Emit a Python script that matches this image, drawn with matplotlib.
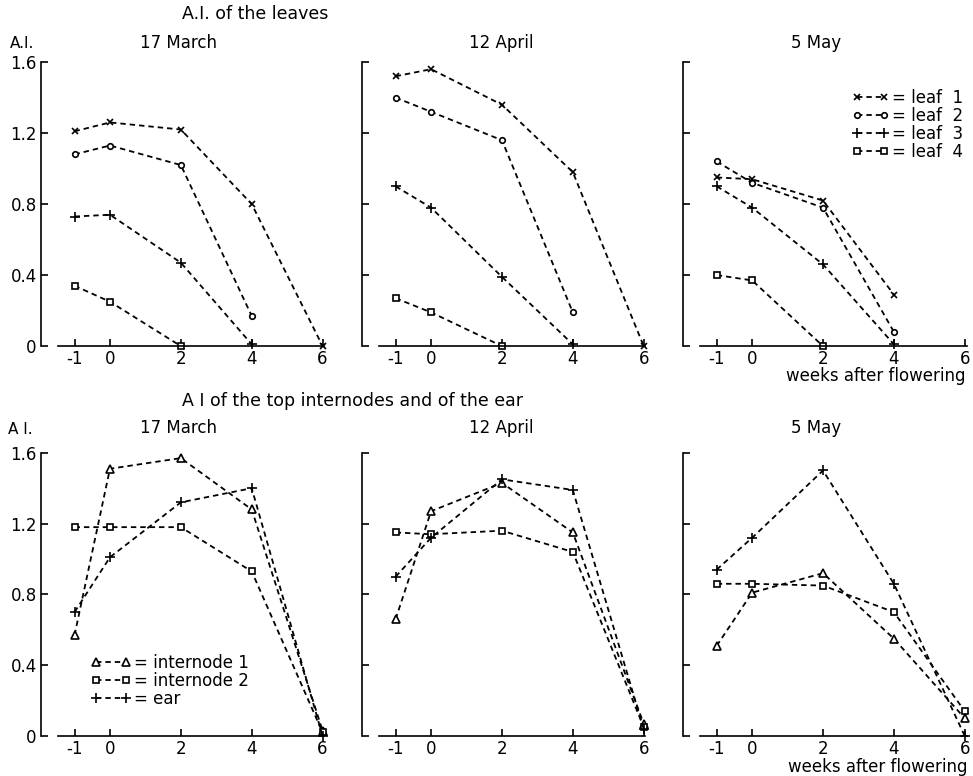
from matplotlib import pyplot as plt

weeks = [-1, 0, 2, 4, 6]
dates = ["17 March", "12 April", "5 May"]

# A.I. of the leaves
leaf1 = [[1.21, 1.26, 1.22, 0.80, 0.0], [1.52, 1.56, 1.36, 0.98, 0.0], [0.95, 0.94, 0.82, 0.29]]
leaf2 = [[1.08, 1.13, 1.02, 0.17], [1.40, 1.32, 1.16, 0.19], [1.04, 0.92, 0.78, 0.08]]
leaf3 = [[0.73, 0.74, 0.47, 0.01], [0.90, 0.78, 0.39, 0.01], [0.90, 0.78, 0.46, 0.01]]
leaf4 = [[0.34, 0.25, 0.0], [0.27, 0.19, 0.0], [0.40, 0.37, 0.0]]

# A.I. of the top internodes and of the ear
internode1 = [[0.57, 1.51, 1.57, 1.28, 0.03], [0.66, 1.27, 1.43, 1.15, 0.07], [0.51, 0.81, 0.92, 0.55, 0.10]]
internode2 = [[1.18, 1.18, 1.18, 0.93, 0.02], [1.15, 1.14, 1.16, 1.04, 0.05], [0.86, 0.86, 0.85, 0.70, 0.14]]
ear = [[0.70, 1.01, 1.32, 1.40, 0.0], [0.90, 1.12, 1.45, 1.39, 0.04], [0.94, 1.12, 1.50, 0.86, 0.0]]

yticks = [0, 0.4, 0.8, 1.2, 1.6]
ytick_labels = ["0", "0.4", "0.8", "1.2", "1.6"]

FS = 12
DASH = (3, 2.2)
W, H = 973, 776


def style_axes(ax):
    ax.set_xlim(-1.95, 6.15)
    ax.set_ylim(0, 1.6)
    for s in ["top", "right"]:
        ax.spines[s].set_visible(False)
    ax.spines["bottom"].set_bounds(-1.47, 6.05)
    ax.spines["left"].set_linewidth(1.2)
    ax.spines["bottom"].set_linewidth(1.2)
    ax.set_xticks(weeks)
    ax.set_xticklabels([str(w) for w in weeks], fontsize=FS)
    ax.set_yticks(yticks)
    ax.tick_params(direction="in", length=5, width=1.2, pad=3)


def curve(ax, y, marker, ms, label=None):
    ax.plot(weeks[:len(y)], y, color="black", lw=1.3, dashes=DASH, marker=marker,
            ms=ms, mfc="white", mec="black", mew=1.2, clip_on=False, label=label)


fig = plt.figure(figsize=(W / 100, H / 100), dpi=100)
lefts = [0.042, 0.372, 0.702]
title_x = [1.94, 1.97, 1.8]
top_axes = [fig.add_axes([l, 0.554, 0.295, 0.366]) for l in lefts]
bot_axes = [fig.add_axes([l, 0.0515, 0.295, 0.365]) for l in lefts]

for i, ax in enumerate(top_axes):
    style_axes(ax)
    curve(ax, leaf1[i], "x", 5, "= leaf  1")
    curve(ax, leaf2[i], "o", 4, "= leaf  2")
    curve(ax, leaf3[i], "+", 7, "= leaf  3")
    curve(ax, leaf4[i], "s", 4, "= leaf  4")
    ax.text(title_x[i], 1.0 + 19 / 284, dates[i], transform=ax.get_xaxis_transform(),
            ha="center", va="center", fontsize=FS)

for i, ax in enumerate(bot_axes):
    style_axes(ax)
    curve(ax, internode1[i], "^", 6, "= internode 1")
    curve(ax, internode2[i], "s", 4, "= internode 2")
    curve(ax, ear[i], "+", 7, "= ear")
    ax.text(title_x[i], 1.0 + 25 / 283, dates[i], transform=ax.get_xaxis_transform(),
            ha="center", va="center", fontsize=FS)

for ax in [top_axes[0], bot_axes[0]]:
    ax.set_yticklabels(ytick_labels, fontsize=FS)
for ax in top_axes[1:] + bot_axes[1:]:
    ax.set_yticklabels([])

fig.text(10 / W, 1 - 43 / H, "A.I.", ha="left", va="center", fontsize=FS - 1)
fig.text(8 / W, 1 - 430 / H, "A I.", ha="left", va="center", fontsize=FS - 1)

fig.text(182 / W, 1 - 14 / H, "A.I. of the leaves", ha="left", va="center", fontsize=12.5)
fig.text(182 / W, 1 - 401 / H, "A I of the top internodes and of the ear",
         ha="left", va="center", fontsize=12.5)
fig.text(966 / W, 1 - 376 / H, "weeks after flowering", ha="right", va="center", fontsize=12)
fig.text(968 / W, 1 - 767 / H, "weeks after flowering", ha="right", va="center", fontsize=12)

top_axes[2].legend(loc="upper right", bbox_to_anchor=(1.0, 0.93), numpoints=2, frameon=False,
                   handlelength=2.2, handletextpad=0.2, labelspacing=0.0, fontsize=FS,
                   borderaxespad=0)
bot_axes[0].legend(loc="lower left", bbox_to_anchor=(0.15, 0.075), numpoints=2, frameon=False,
                   handlelength=2.4, handletextpad=0.2, labelspacing=0.0, fontsize=12,
                   borderaxespad=0)

plt.savefig("out.png", dpi=100)
